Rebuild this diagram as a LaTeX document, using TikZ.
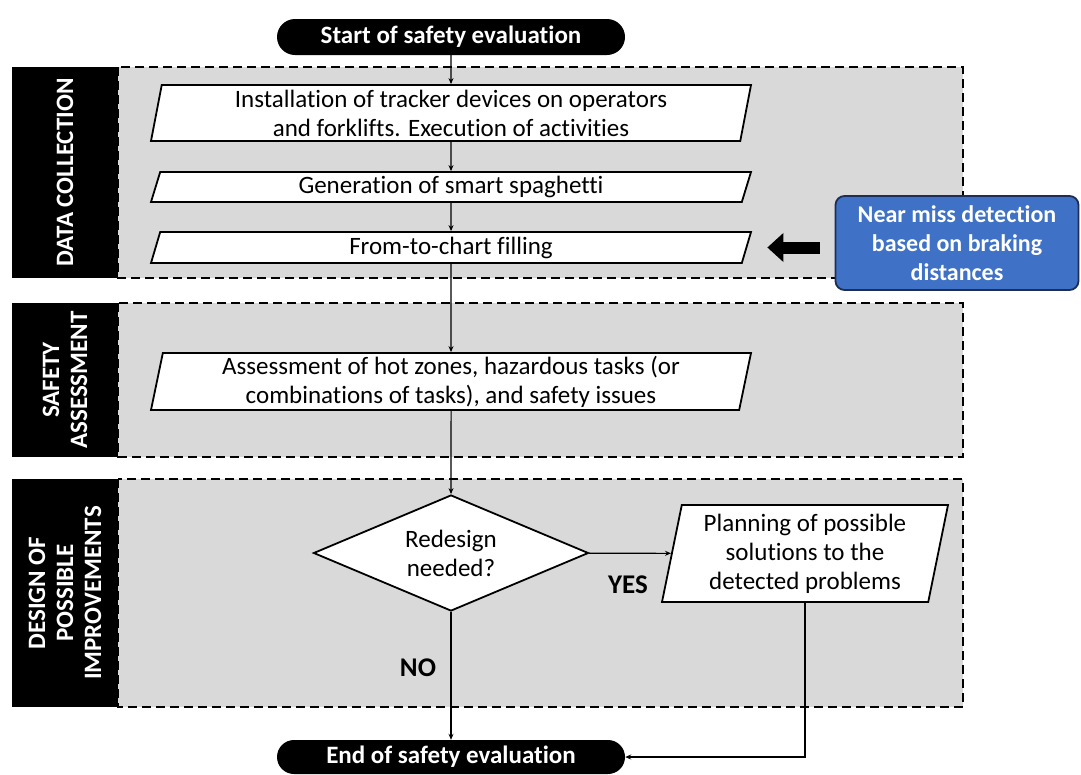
\documentclass[tikz,border=0pt]{standalone}
\usepackage{fontspec}
\setmainfont{Carlito}[Ligatures=NoCommon]
\usetikzlibrary{shapes.geometric,shapes.misc,arrows.meta}
\definecolor{zone}{HTML}{D9D9D9}
\definecolor{noteblue}{HTML}{3F72C6}
\definecolor{notenavy}{HTML}{1E2D55}
\begin{document}
\begin{tikzpicture}[x=1pt,y=-1pt,>={Stealth[length=6pt,width=5pt]},
 every node/.style={font=\fontsize{25}{29}\selectfont},
 io/.style={trapezium,trapezium stretches body,draw,fill=white,line width=1.8pt,
  align=center,inner sep=0pt,minimum width=600pt},
 term/.style={rounded rectangle,fill=black,text=white,font=\fontsize{25}{29}\selectfont\bfseries,
  minimum width=348pt,minimum height=36pt,inner sep=0pt},
 lane/.style={text=white,font=\fontsize{25}{28}\selectfont\bfseries,rotate=90,align=center,inner sep=0pt},
 zonebox/.style={fill=zone,line width=1.3pt,dash pattern=on 9pt off 5pt},
 flow/.style={->,line width=1.1pt}]
 \useasboundingbox (0,0) rectangle (1081,774);
 % lanes
 \draw[zonebox] (118,67) rectangle (963,278);
 \draw[zonebox] (118,303) rectangle (963,457);
 \draw[zonebox] (118,479) rectangle (963,707);
 \fill (12,67) rectangle (118,278);
 \fill (12,303) rectangle (118,457);
 \fill (12,479) rectangle (118,707);
 \node[lane] (lanedata) at (65,172.5) {DATA COLLECTION};
 \node[lane] (lanesafety) at (65,380) {SAFETY\\ASSESSMENT};
 \node[lane] (lanedesign) at (65,593) {DESIGN OF\\POSSIBLE\\IMPROVEMENTS};
 % steps
 \node[term] (start) at (451,37) {Start of safety evaluation};
 \node[io,trapezium left angle=77,trapezium right angle=103,minimum height=56pt] (install) at (451,113)
  {Installation of tracker devices on operators\\and forklifts. Execution of activities};
 \node[io,trapezium left angle=67,trapezium right angle=113,minimum height=30pt] (spaghetti) at (451,187)
  {Generation of smart spaghetti};
 \node[io,trapezium left angle=67,trapezium right angle=113,minimum height=31pt] (fill) at (451,247.5)
  {From-to-chart filling};
 \node[io,trapezium left angle=77,trapezium right angle=103,minimum height=57pt] (assess) at (451,381.5)
  {Assessment of hot zones, hazardous tasks (or\\combinations of tasks), and safety issues};
 \node[diamond,draw,fill=white,line width=1.8pt,aspect=2.37,inner sep=0pt,align=center,
  minimum width=275pt,minimum height=116pt] (redesign) at (451,553) {Redesign\\needed?};
 \node[io,trapezium left angle=76,trapezium right angle=104,minimum width=286pt,minimum height=97pt]
  (plan) at (805,553.5) {Planning of possible\\solutions to the\\detected problems};
 \node[term,minimum height=34pt] (finish) at (451,757) {End of safety evaluation};
 \node[rounded corners=9pt,fill=noteblue,draw=notenavy,line width=1.8pt,text=white,align=center,
  font=\fontsize{24}{29}\selectfont\bfseries,minimum width=243pt,minimum height=94pt]
  (nearmiss) at (957,243) {Near miss detection\\based on braking\\distances};
 \node[font=\fontsize{27}{30}\selectfont\bfseries] (yes) at (628,585) {YES};
 \node[font=\fontsize{27}{30}\selectfont\bfseries] (no) at (418,668) {NO};
 % connectors
 \draw[flow] (start) -- (install);
 \draw[flow] (install) -- (spaghetti);
 \draw[flow] (spaghetti) -- (fill);
 \draw[flow] (fill) -- (assess);
 \draw[flow] (assess) -- (redesign);
 \draw[flow] (redesign) -- (plan);
 \draw[flow] (redesign) -- (finish);
 \draw[flow] (plan) |- (finish);
 \draw[line width=12pt,-{Triangle[length=16pt,width=28pt]},shorten <=15pt,shorten >=20pt]
  (fill.east -| nearmiss.west) -- (fill.east);
\end{tikzpicture}
\end{document}
